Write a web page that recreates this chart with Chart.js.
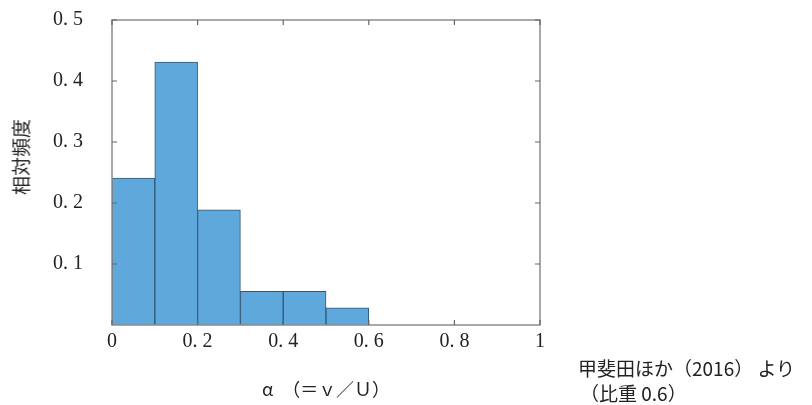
<!DOCTYPE html>
<html>
<head>
<meta charset="utf-8">
<script src="https://cdn.jsdelivr.net/npm/chart.js@4/dist/chart.umd.min.js"></script>
<style>
  body { margin: 0; background: #fff; }
  #wrap { position: relative; width: 812px; height: 405px; }
  .note { position: absolute; font-family: "Noto Sans CJK JP", serif; font-size: 19px; color: #222; white-space: pre; }
  .ytitle { left: 20px; top: 157px; transform: translate(-50%, -50%) rotate(-90deg); }
</style>
</head>
<body>
<div id="wrap">
  <canvas id="myChart" width="812" height="405"></canvas>
  <div class="note ytitle">相対頻度</div>
  <div class="note" style="left:578px; top:354px;">甲斐田ほか（2016） より</div>
  <div class="note" style="left:580px; top:379px;">（比重 0.6）</div>
</div>
<script>
// histogram bins (centres of 0.1 wide classes) and relative frequencies
var binCentres = [0.05, 0.15, 0.25, 0.35, 0.45, 0.55, 0.65, 0.75, 0.85, 0.95];
var freqs = [0.241, 0.431, 0.189, 0.055, 0.055, 0.028, 0, 0, 0, 0];

var xTicks = [0, 0.2, 0.4, 0.6, 0.8, 1];
var xTickLabels = ['0', '0. 2', '0. 4', '0. 6', '0. 8', '1'];
var yTicks = [0.1, 0.2, 0.3, 0.4, 0.5];
var yTickLabels = ['0. 1', '0. 2', '0. 3', '0. 4', '0. 5'];

var labelFont = { family: '"Liberation Serif", "Noto Sans CJK JP", serif', size: 20 };

function findLabel(list, labels, v) {
    for (var i = 0; i < list.length; i++) {
        if (Math.abs(list[i] - v) < 1e-6) return labels[i];
    }
    return '';
}

// box around the plot with small inward tick marks
var boxPlugin = {
    id: 'box',
    afterDatasetsDraw: function (chart) {
        var c = chart.ctx, a = chart.chartArea;
        var sx = chart.scales.x, sy = chart.scales.y;
        c.save();
        c.strokeStyle = '#8c8c8c';
        c.lineWidth = 1.5;
        c.strokeRect(a.left, a.top, a.right - a.left, a.bottom - a.top);
        c.lineWidth = 1.2;
        c.strokeStyle = '#666';
        c.beginPath();
        yTicks.forEach(function (v) {
            var p = sy.getPixelForValue(v);
            c.moveTo(a.left, p); c.lineTo(a.left + 5, p);
            c.moveTo(a.right, p); c.lineTo(a.right - 5, p);
        });
        xTicks.forEach(function (v) {
            var p = sx.getPixelForValue(v);
            c.moveTo(p, a.bottom); c.lineTo(p, a.bottom - 5);
            c.moveTo(p, a.top); c.lineTo(p, a.top + 5);
        });
        c.stroke();
        c.restore();
    }
};

var ctx = document.getElementById('myChart').getContext('2d');
var myChart = new Chart(ctx, {
    type: 'bar',
    data: {
        datasets: [{
            data: binCentres.map(function (x, i) { return { x: x, y: freqs[i] }; }),
            backgroundColor: '#5fa8dc',
            borderColor: '#2f5878',
            borderWidth: 1,
            barPercentage: 1,
            categoryPercentage: 1
        }]
    },
    options: {
        responsive: false,
        animation: false,
        layout: { padding: { top: 20, right: 272, bottom: 0, left: 0 } },
        plugins: {
            legend: { display: false },
            tooltip: { enabled: false }
        },
        scales: {
            x: {
                type: 'linear',
                min: 0,
                max: 1,
                offset: false,
                grid: { display: false, drawTicks: false },
                border: { display: false },
                afterBuildTicks: function (s) { s.ticks = xTicks.map(function (v) { return { value: v }; }); },
                afterFit: function (s) { s.height = 80; },
                ticks: {
                    font: labelFont,
                    color: '#222',
                    padding: 5,
                    maxRotation: 0,
                    callback: function (v) { return findLabel(xTicks, xTickLabels, v); }
                },
                title: {
                    display: true,
                    text: 'α　（＝ｖ／Ｕ）',
                    font: { family: '"Noto Sans CJK JP", serif', size: 18 },
                    color: '#222',
                    padding: { top: 0, bottom: 5 }
                }
            },
            y: {
                min: 0,
                max: 0.5,
                grid: { display: false, drawTicks: false },
                border: { display: false },
                afterBuildTicks: function (s) { s.ticks = yTicks.map(function (v) { return { value: v }; }); },
                afterFit: function (s) { s.width = 112; s.paddingTop = 0; s.paddingBottom = 0; },
                ticks: {
                    font: labelFont,
                    color: '#222',
                    padding: 29,
                    callback: function (v) { return findLabel(yTicks, yTickLabels, v); }
                }
            }
        }
    },
    plugins: [boxPlugin]
});
</script>
</body>
</html>
